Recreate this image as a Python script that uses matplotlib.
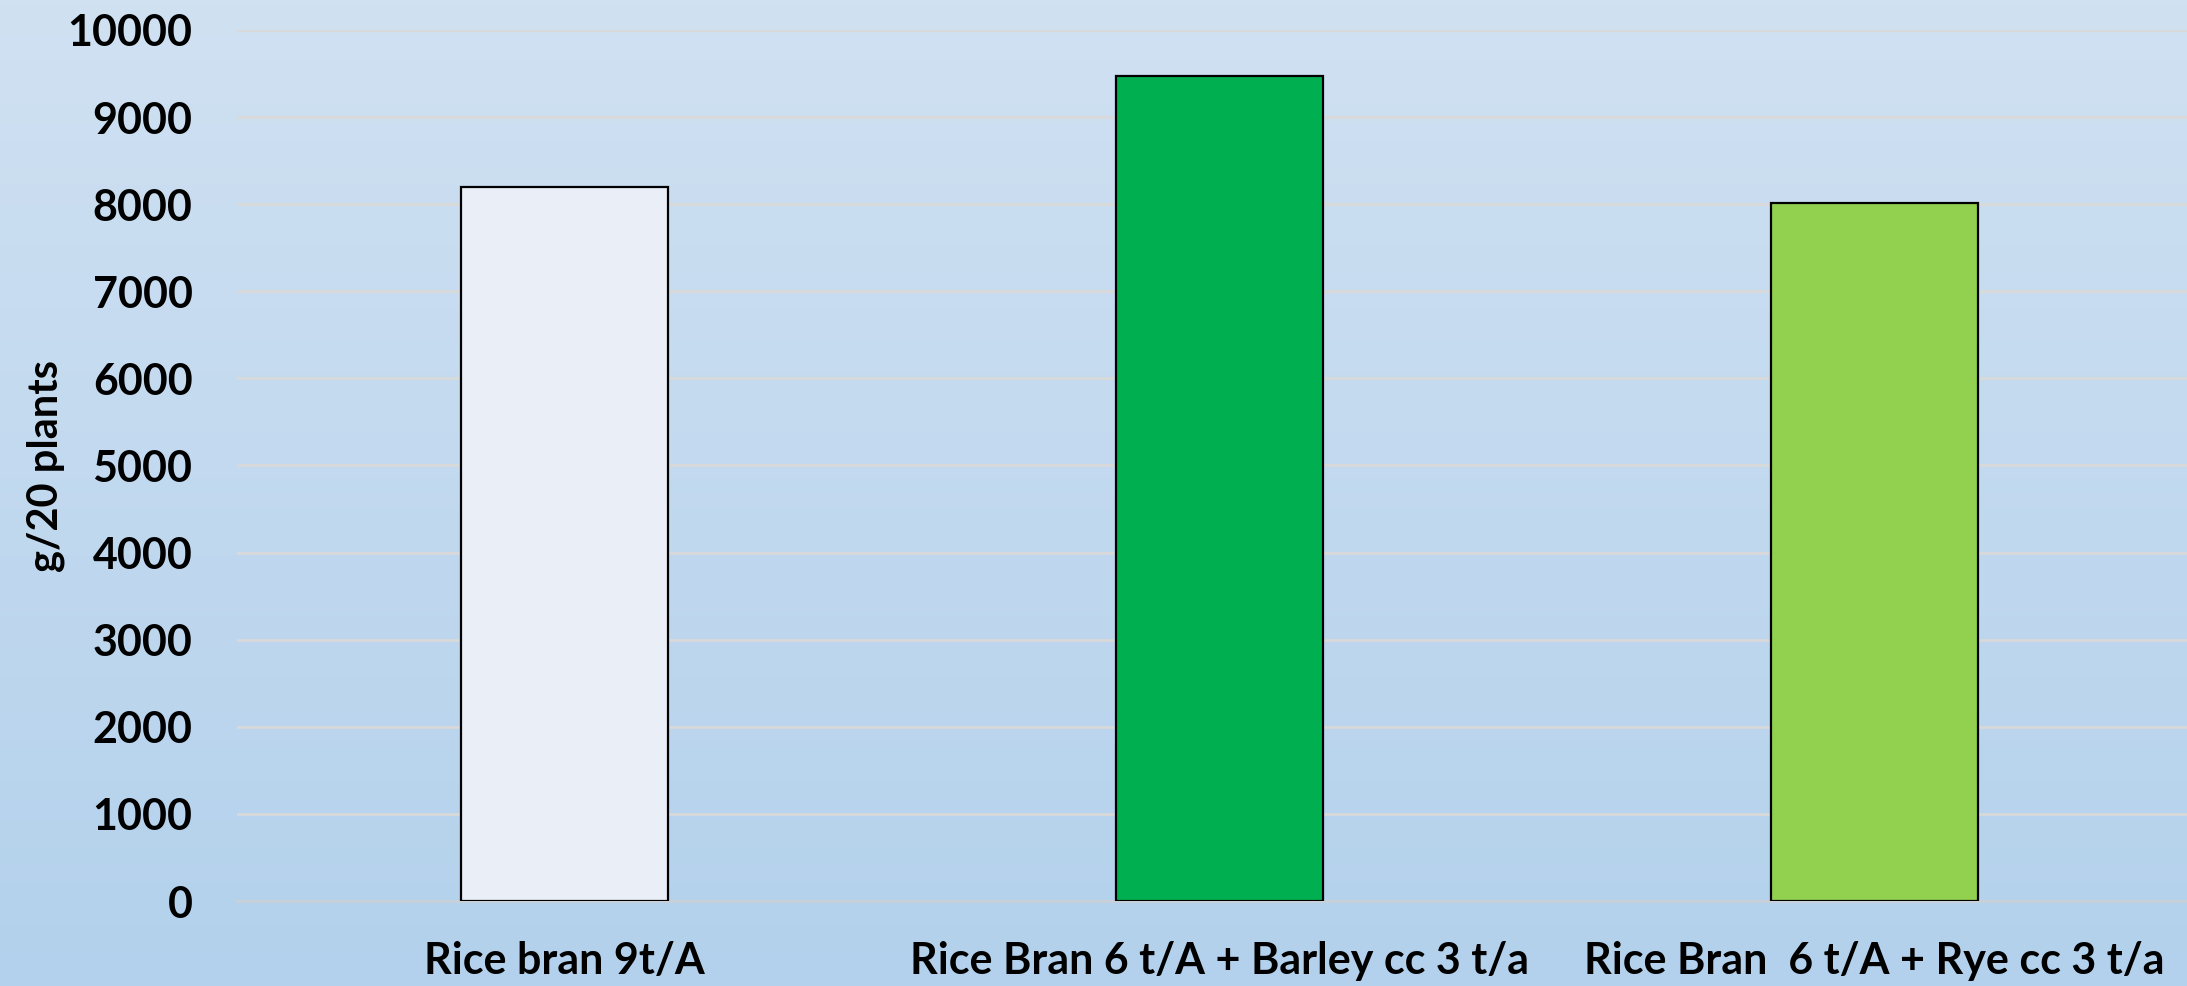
import matplotlib
matplotlib.use("Agg")
import matplotlib.pyplot as plt
import numpy as np

categories = ["Rice bran 9t/A", "Rice Bran 6 t/A + Barley cc 3 t/a", "Rice Bran  6 t/A + Rye cc 3 t/a"]
values = [8200, 9470, 8010]
bar_colors = ["#E9EEF7", "#00B050", "#92D050"]
yticks = [0, 1000, 2000, 3000, 4000, 5000, 6000, 7000, 8000, 9000, 10000]
ylabel = "g/20 plants"

W, H = 2187, 986
dpi = 100
fig = plt.figure(figsize=(W / dpi, H / dpi), dpi=dpi)

# gradient background
bg = fig.add_axes([0, 0, 1, 1], zorder=0)
top = np.array([0xD0, 0xE1, 0xF2]) / 255
bot = np.array([0xB3, 0xD1, 0xEC]) / 255
t = np.linspace(0, 1, 256)[:, None]
grad = top[None, :] * (1 - t) + bot[None, :] * t
bg.imshow(grad[:, None, :].repeat(2, axis=1), aspect="auto", extent=[0, 1, 0, 1])
bg.axis("off")

x0 = 237 / W
x1 = 2202 / W
y0 = 1 - 901 / H
y1 = 1 - 30 / H
ax = fig.add_axes([x0, y0, x1 - x0, y1 - y0], zorder=1)
ax.patch.set_alpha(0)

font = "Lato"
x = np.arange(len(categories))
ax.bar(x, values, width=0.315, color=bar_colors, edgecolor="black", linewidth=1.6, zorder=3)
ax.set_xlim(-0.5, len(categories) - 0.5)
ax.set_ylim(0, 10000)
ax.set_yticks(yticks)
ax.set_yticklabels([str(v) for v in yticks], fontsize=31, fontweight="bold", family=font)
ax.set_xticks(x)
ax.set_xticklabels(categories, fontsize=31, fontweight="bold", family=font)
ax.tick_params(axis="y", length=0, pad=32)
ax.tick_params(axis="x", length=0, pad=29)
ax.grid(axis="y", color="#D9D9D9", linewidth=2, zorder=0)
for s in ["top", "right", "left"]:
    ax.spines[s].set_visible(False)
ax.spines["bottom"].set_color("#C8D0D8")
ax.spines["bottom"].set_linewidth(2)
ax.set_ylabel(ylabel, fontsize=30, fontweight="bold", family=font, va="center")
ax.yaxis.set_label_coords((46 - 237) / (2202 - 237), 0.5)

fig.savefig("out.png", dpi=dpi)
